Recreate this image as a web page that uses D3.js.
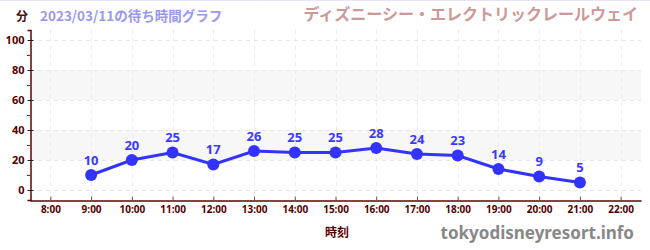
<!doctype html>
<html>
<head>
<meta charset="utf-8">
<script src="https://cdn.jsdelivr.net/npm/d3@7"></script>
<style>
  body { margin: 0; padding: 0; background: #fff; }
  svg { display: block; font-family: "Noto Sans CJK JP", "Noto Sans", sans-serif; }
</style>
</head>
<body>
<div id="chart"></div>
<script>
  // wait-time data (minutes) by hour
  var hours = [9, 10, 11, 12, 13, 14, 15, 16, 17, 18, 19, 20, 21];
  var waits = [10, 20, 25, 17, 26, 25, 25, 28, 24, 23, 14, 9, 5];
  var xTicks = [8, 9, 10, 11, 12, 13, 14, 15, 16, 17, 18, 19, 20, 21, 22];
  var yTicks = [0, 20, 40, 60, 80, 100];
  var yMinor = [10, 30, 50, 70, 90];
  var bands = [[20, 40], [60, 80]];

  var width = 650, height = 250;
  var svg = d3.select("#chart").append("svg")
      .attr("width", width).attr("height", height);

  var x = d3.scaleLinear().domain([7.5, 22.5]).range([30, 641]);
  var y = d3.scaleLinear().domain([-6.67, 106.67]).range([200, 30]);

  svg.append("line").attr("x1", 0).attr("x2", width).attr("y1", 0.5).attr("y2", 0.5)
    .attr("stroke", "#e4e4fa");

  // bands
  svg.selectAll("rect.band").data(bands).enter().append("rect")
    .attr("x", x.range()[0] + 1).attr("width", x.range()[1] - x.range()[0] - 1)
    .attr("y", d => y(d[1])).attr("height", d => y(d[0]) - y(d[1]))
    .attr("fill", "#f7f7f7");

  // grid
  svg.selectAll("line.hg").data(yTicks).enter().append("line")
    .attr("x1", x.range()[0]).attr("x2", x.range()[1])
    .attr("y1", d => y(d) + 0.5).attr("y2", d => y(d) + 0.5)
    .attr("stroke", "#e6e6e6").attr("stroke-dasharray", "4,4");
  svg.selectAll("line.vg").data(xTicks).enter().append("line")
    .attr("x1", d => Math.round(x(d)) + 0.5).attr("x2", d => Math.round(x(d)) + 0.5)
    .attr("y1", y.range()[1]).attr("y2", y.range()[0])
    .attr("stroke", "#ececec").attr("stroke-dasharray", "4,4");

  // y axis
  var yAxis = svg.append("g").attr("transform", "translate(30.5,0)")
    .call(d3.axisLeft(y).tickValues(yTicks).tickSize(3).tickPadding(3));
  yAxis.select(".domain").attr("stroke", "#660000").attr("stroke-width", 1.5);
  yAxis.selectAll(".tick line").attr("x2", 3).attr("x1", -3).attr("stroke", "#222");
  yAxis.selectAll("text").attr("fill", "#550000").attr("font-size", 11)
    .attr("font-weight", "bold").attr("font-family", "'Noto Sans', sans-serif");
  svg.selectAll("line.ym").data(yMinor).enter().append("line")
    .attr("x1", 27).attr("x2", 30)
    .attr("y1", d => y(d) + 0.5).attr("y2", d => y(d) + 0.5)
    .attr("stroke", "#dd0000");

  // x axis
  var xAxis = svg.append("g").attr("transform", "translate(0,200.5)")
    .call(d3.axisBottom(x).tickValues(xTicks).tickSize(0).tickPadding(5)
      .tickFormat(d => d + ":00"));
  xAxis.select(".domain").attr("stroke", "#660000").attr("stroke-width", 1.5);
  xAxis.selectAll(".tick line").attr("y2", -4).attr("stroke", "#555");
  xAxis.selectAll("text").attr("fill", "#550000").attr("font-size", 10)
    .attr("font-weight", "bold").attr("font-family", "'Noto Sans', sans-serif");

  // line + points
  var pts = hours.map((h, i) => [h, waits[i]]);
  svg.append("path").datum(pts)
    .attr("fill", "none").attr("stroke", "#3333ff").attr("stroke-width", 3)
    .attr("d", d3.line().x(d => x(d[0])).y(d => y(d[1])));
  svg.selectAll("circle.pt").data(pts).enter().append("circle")
    .attr("cx", d => x(d[0])).attr("cy", d => y(d[1])).attr("r", 6)
    .attr("fill", "#3333ff");
  svg.selectAll("text.lbl").data(pts).enter().append("text")
    .attr("x", d => x(d[0])).attr("y", d => y(d[1]) - 10)
    .attr("text-anchor", "middle").attr("fill", "#3a3aff")
    .attr("font-size", 13).attr("font-weight", "bold")
    .attr("font-family", "'Noto Sans', sans-serif")
    .text(d => d[1]);

  // titles
  svg.append("text").attr("x", 22).attr("y", 21).attr("text-anchor", "middle")
    .attr("font-size", 12).attr("font-weight", "bold").attr("fill", "#441111").text("分");
  svg.append("text").attr("x", 40).attr("y", 21)
    .attr("font-size", 13.5).attr("font-weight", "bold").attr("fill", "#9999ee")
    .text("2023/03/11の待ち時間グラフ");
  svg.append("text").attr("x", 638).attr("y", 20).attr("text-anchor", "end")
    .attr("font-size", 16).attr("font-weight", "bold").attr("fill", "#cc9999")
    .text("ディズニーシー・エレクトリックレールウェイ");
  svg.append("text").attr("x", 337).attr("y", 237).attr("text-anchor", "middle")
    .attr("font-size", 12).attr("font-weight", "bold").attr("fill", "#550000").text("時刻");
  svg.append("text").attr("x", 634).attr("y", 239).attr("text-anchor", "end")
    .attr("font-size", 17).attr("font-weight", "bold").attr("fill", "#888")
    .attr("font-family", "'Noto Sans', sans-serif")
    .text("tokyodisneyresort.info");
</script>
</body>
</html>
